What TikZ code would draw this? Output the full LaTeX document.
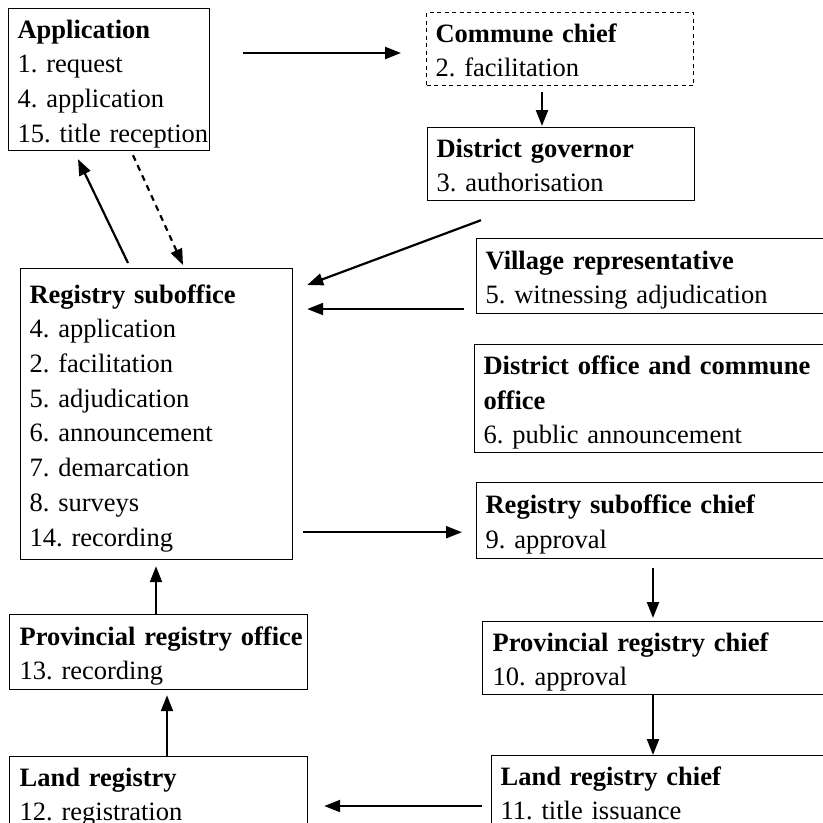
\documentclass[tikz,border=0pt]{standalone}
\usepackage{fontspec}
\setmainfont{Liberation Serif}
\usetikzlibrary{arrows.meta}
\frenchspacing
\newcommand\fs{\fontsize{26.5pt}{34.7pt}\selectfont\frenchspacing}
\newcommand\li[1]{\mbox{\rule[-6.9pt]{0pt}{34.7pt}#1}}
\tikzset{
  box/.style={draw, line width=1.2pt, anchor=north west, inner xsep=9pt, inner ysep=0pt, align=left, font=\fs},
  arr/.style={line width=2.2pt, -{Triangle[length=16pt,width=12pt]}},
  darr/.style={arr, dash pattern=on 6pt off 5pt}
}
\begin{document}
\begin{tikzpicture}[x=1pt,y=-1pt]
\useasboundingbox (0,0) rectangle (823,823);
\clip (0,0) rectangle (823,823);
\node[box, text width=183pt, minimum height=142pt] (app) at (8,8)
  {\li{\textbf{Application}}\\\li{1. request}\\\li{4. application}\\\li{15. title reception}};
\node[box, dash pattern=on 4pt off 3.5pt, text width=249pt, minimum height=73pt] (commune) at (426,12)
  {\li{\textbf{Commune chief}}\\\li{2. facilitation}};
\node[box, text width=249pt, minimum height=73pt] (gov) at (427,127)
  {\li{\textbf{District governor}}\\\li{3. authorisation}};
\node[box, text width=254pt, minimum height=291pt] (rso) at (20,268)
  {\li{\textbf{Registry suboffice}}\\\li{4. application}\\\li{2. facilitation}\\\li{5. adjudication}\\\li{6. announcement}\\\li{7. demarcation}\\\li{8. surveys}\\\li{14. recording}};
\node[box, text width=356pt, minimum height=75pt] (vil) at (476,238)
  {\li{\textbf{Village representative}}\\\li{5. witnessing adjudication}};
\node[box, text width=358pt, minimum height=108pt] (doc) at (474,344)
  {\li{\textbf{District office and commune}}\\\li{\textbf{office}}\\\li{6. public announcement}};
\node[box, text width=356pt, minimum height=76pt] (rsc) at (476,482)
  {\li{\textbf{Registry suboffice chief}}\\\li{9. approval}};
\node[box, inner xsep=10pt, text width=348pt, minimum height=73pt] (prc) at (482,621)
  {\li{\textbf{Provincial registry chief}}\\\li{10. approval}};
\node[box, text width=341pt, minimum height=73pt] (lrc) at (491,755)
  {\li{\textbf{Land registry chief}}\\\li{11. title issuance}};
\node[box, inner xsep=10pt, text width=278pt, minimum height=75pt] (pro) at (9,614)
  {\li{\textbf{Provincial registry office}}\\\li{13. recording}};
\node[box, inner xsep=10pt, text width=278pt, minimum height=73pt] (lr) at (9,756)
  {\li{\textbf{Land registry}}\\\li{12. registration}};
% connectors
\draw[arr] ([shift={(33,45)}]app.north east) -- ([shift={(-25,41)}]commune.north west);
\draw[arr] ([shift={(116,6)}]commune.south west) -- ([shift={(115,-1)}]gov.north west);
\draw[arr] ([shift={(54,19)}]gov.south west) -- ([shift={(14,17)}]rso.north east);
\draw[arr] ([shift={(-12,71)}]vil.north west) -- ([shift={(14,41)}]rso.north east);
\draw[arr] ([shift={(10,-28)}]rso.south east) -- ([shift={(-14,-27)}]rsc.south west);
\draw[arr] ([shift={(177,9)}]rsc.south west) -- ([shift={(171,-3)}]prc.north west);
\draw[arr] ([shift={(171,0)}]prc.south west) -- ([shift={(162,0)}]lrc.north west);
\draw[arr] ([shift={(-9,51)}]lrc.north west) -- ([shift={(16,50)}]lr.north east);
\draw[arr] ([shift={(158,0)}]lr.north west) -- ([shift={(158,5)}]pro.south west);
\draw[arr] ([shift={(147,0)}]pro.north west) -- ([shift={(136,6)}]rso.south west);
\draw[arr] ([shift={(108,-5)}]rso.north west) -- ([shift={(70,8)}]app.south west);
\draw[darr] ([shift={(125,4)}]app.south west) -- ([shift={(163,-3)}]rso.north west);
\end{tikzpicture}
\end{document}
